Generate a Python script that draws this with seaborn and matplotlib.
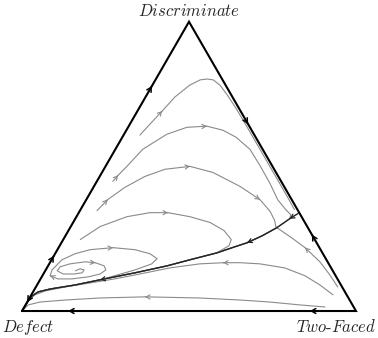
import numpy as np
import pandas as pd
import seaborn as sns
import matplotlib.pyplot as plt

sns.set_style('white')
plt.rcParams['mathtext.fontset'] = 'cm'

# population shares along each trajectory: discriminate, two-faced (defect = rest)
# separatrix from the fixed point on the Discriminate/Two-Faced edge down to Defect
sep_disc = [0.337, 0.319, 0.288, 0.260, 0.236, 0.219, 0.201, 0.177, 0.156, 0.132,
            0.108, 0.090, 0.076, 0.066, 0.052, 0.035, 0.0]
sep_two = [0.658, 0.642, 0.619, 0.589, 0.556, 0.520, 0.483, 0.414, 0.356, 0.272,
           0.180, 0.114, 0.046, 0.015, 0.004, 0.001, 0.0]

a_disc = [0.608, 0.646, 0.691, 0.740, 0.781, 0.799, 0.802, 0.799, 0.781, 0.747,
          0.705, 0.646, 0.566, 0.476, 0.392, 0.351]
a_two = [0.049, 0.060, 0.074, 0.088, 0.112, 0.134, 0.153, 0.173, 0.202, 0.241,
         0.286, 0.346, 0.426, 0.516, 0.600, 0.640]

b_disc = [0.448, 0.469, 0.500, 0.559, 0.611, 0.635, 0.639, 0.625, 0.601, 0.559,
          0.503, 0.441, 0.385, 0.354, 0.333]
b_two = [0.048, 0.053, 0.064, 0.082, 0.128, 0.176, 0.234, 0.289, 0.340, 0.403,
         0.461, 0.522, 0.573, 0.610, 0.638]

c_disc = [0.347, 0.385, 0.427, 0.465, 0.490, 0.500, 0.479, 0.431, 0.385, 0.344,
          0.313, 0.292]
c_two = [0.051, 0.064, 0.094, 0.135, 0.183, 0.253, 0.332, 0.437, 0.520, 0.571,
         0.600, 0.614]

d_disc = [0.247, 0.292, 0.326, 0.340, 0.340, 0.326, 0.306, 0.278, 0.247, 0.226]
d_two = [0.051, 0.088, 0.151, 0.213, 0.267, 0.340, 0.410, 0.466, 0.503, 0.507]

spiral_disc = [0.139, 0.146, 0.142, 0.132, 0.128, 0.128, 0.139, 0.153, 0.163, 0.170,
               0.167, 0.156, 0.142, 0.128, 0.118, 0.111, 0.111, 0.122, 0.142, 0.177,
               0.198, 0.212, 0.219, 0.212, 0.198, 0.181, 0.163, 0.142, 0.122]
spiral_two = [0.090, 0.101, 0.115, 0.114, 0.092, 0.059, 0.036, 0.038, 0.062, 0.104,
              0.136, 0.168, 0.180, 0.170, 0.139, 0.094, 0.052, 0.023, 0.019, 0.031,
              0.060, 0.098, 0.163, 0.232, 0.284, 0.314, 0.307, 0.267, 0.217]

f_disc = [0.056, 0.090, 0.122, 0.149, 0.163, 0.167, 0.167, 0.163, 0.149, 0.128,
          0.111, 0.097, 0.083, 0.069, 0.056, 0.038, 0.0]
f_two = [0.903, 0.847, 0.786, 0.712, 0.631, 0.570, 0.519, 0.451, 0.368, 0.289,
         0.222, 0.155, 0.087, 0.034, 0.011, 0.002, 0.0]

g_disc = [0.014, 0.021, 0.031, 0.038, 0.045, 0.049, 0.045, 0.038, 0.031, 0.021, 0.0]
g_two = [0.900, 0.822, 0.727, 0.634, 0.510, 0.344, 0.211, 0.110, 0.038, 0.008, 0.0]

h_disc = [0.083, 0.125, 0.170, 0.219, 0.253, 0.274]
h_two = [0.904, 0.859, 0.807, 0.738, 0.681, 0.644]

# (discriminate, two-faced, point on separatrix where it merges, arrow points)
curves = [
    (a_disc, a_two, None, [2]),
    (b_disc, b_two, 1, [1, 6]),
    (c_disc, c_two, 2, [1, 5, 8]),
    (d_disc, d_two, 6, [4]),
    (spiral_disc, spiral_two, 10, [10, 17, 22]),
    (f_disc, f_two, None, [6]),
    (g_disc, g_two, None, [5]),
    (h_disc, h_two, 2, [3]),
]
sep_arrows = [1, 4, 10]

# arrows on the edges: (discriminate, two-faced, direction of the flow)
edge_arrows = [
    (0.778, 0.0, (0.5, 0.866)), (0.191, 0.0, (0.5, 0.866)), (0.031, 0.0, (-0.5, -0.866)),
    (0.0, 0.138, (-1, 0)), (0.0, 0.862, (-1, 0)),
    (0.646, 0.354, (0.5, -0.866)), (0.264, 0.736, (-0.5, 0.866)),
]

vertex_names = ['Defect', 'Two-Faced', 'Discriminate']


def to_xy(disc, two):
    disc = np.asarray(disc, dtype=float)
    two = np.asarray(two, dtype=float)
    return two + disc / 2, disc * np.sqrt(3) / 2


def flecha(ax, x0, y0, dx, dy, color, lw, size):
    n = np.hypot(dx, dy)
    ax.annotate('', xy=(x0, y0), xytext=(x0 - 1e-3 * dx / n, y0 - 1e-3 * dy / n),
                arrowprops=dict(arrowstyle='->,head_length=0.45,head_width=0.25',
                                color=color, lw=lw, shrinkA=0, shrinkB=0,
                                mutation_scale=size))


fig = plt.figure(figsize=(3.78, 3.38), dpi=100)
ax = fig.add_axes([0, 0, 1, 1])

gris = '#8a8a8a'
sx, sy = to_xy(sep_disc, sep_two)

for disc, two, join, arrows in curves:
    x, y = to_xy(disc, two)
    if join is not None:
        x = np.concatenate([x, sx[join:]])
        y = np.concatenate([y, sy[join:]])
    df = pd.DataFrame({'x': x, 'y': y})
    sns.lineplot(data=df, x='x', y='y', sort=False, estimator=None, color=gris,
                 linewidth=0.8, ax=ax)
    for i in arrows:
        flecha(ax, x[i], y[i], x[i] - x[i - 1], y[i] - y[i - 1], gris, 0.8, 6)

# separatrix
df_sep = pd.DataFrame({'x': sx, 'y': sy})
sns.lineplot(data=df_sep, x='x', y='y', sort=False, estimator=None, color='#222222',
             linewidth=1.0, ax=ax)
for i in sep_arrows:
    flecha(ax, sx[i], sy[i], sx[i] - sx[i - 1], sy[i] - sy[i - 1], '#222222', 0.9, 6)

# triangle
tx, ty = to_xy([0, 0, 1, 0], [0, 1, 0, 0])
ax.plot(tx, ty, color='black', linewidth=1.5, solid_joinstyle='miter')
for disc, two, (dx, dy) in edge_arrows:
    ex, ey = to_xy([disc], [two])
    flecha(ax, ex[0], ey[0], dx, dy, 'black', 1.1, 7)

ax.text(-0.060, -0.048, r'$\mathit{Defect}$', fontsize=12, ha='left', va='center')
ax.text(1.060, -0.048, r'$\mathit{Two}\text{-}\mathit{Faced}$', fontsize=12,
        ha='right', va='center')
ax.text(0.5, 0.898, r'$\mathit{Discriminate}$', fontsize=12, ha='center', va='center')

ax.set_xlim(-0.0659, 1.0659)
ax.set_ylim(-0.0808, 0.9311)
ax.axis('off')

plt.savefig('out.png', dpi=100)
plt.close()
